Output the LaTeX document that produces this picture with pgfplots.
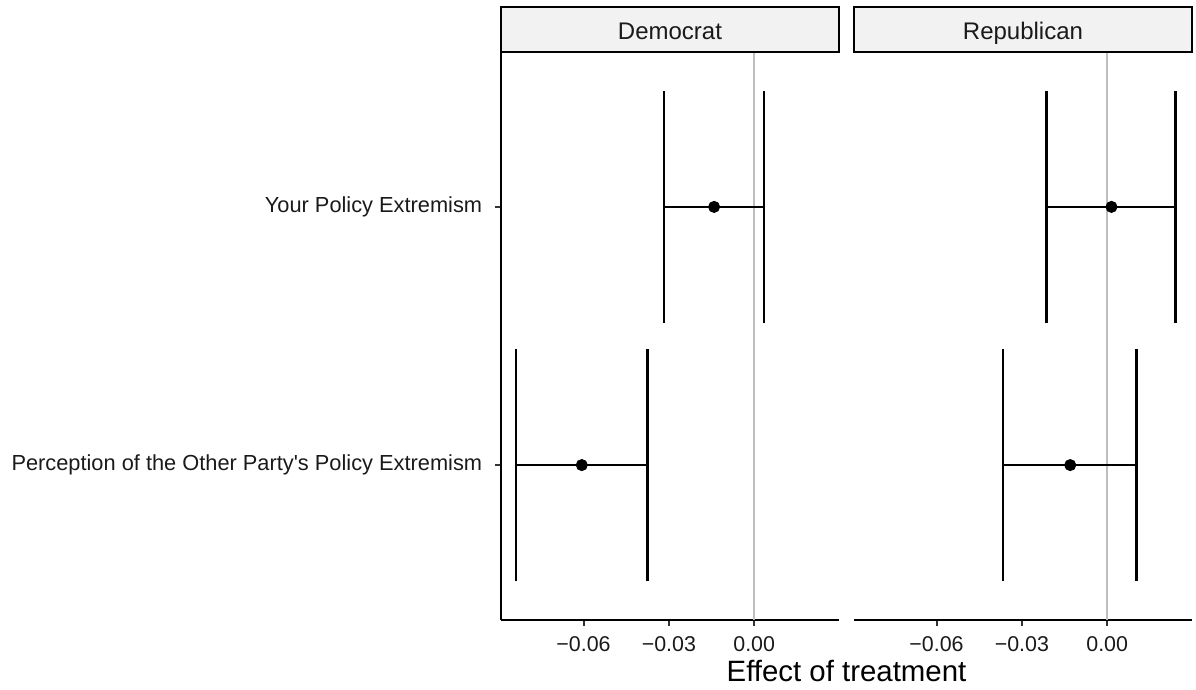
\documentclass[border=0pt]{standalone}
\usepackage{fontspec}
\setmainfont{Liberation Sans}
\usepackage{pgfplots}
\pgfplotsset{compat=1.18}
\definecolor{stripfill}{HTML}{F2F2F2}
\definecolor{zeroline}{HTML}{BEBEBE}
\definecolor{tickcol}{HTML}{333333}
\definecolor{txt}{HTML}{1A1A1A}
\pgfplotsset{
  panel/.style={
    width=169pt, height=284pt, scale only axis,
    xmin=-0.0890, xmax=0.0298, ymin=0.4, ymax=2.6,
    scaled x ticks=false,
    xtick={-0.06,-0.03,0}, xticklabels={−0.06,−0.03,0.00},
    tick align=outside, major tick length=3pt,
    tick style={tickcol, line width=1pt},
    axis line style={black, line width=1.1pt},
    ticklabel style={font=\fontsize{10.7}{12}\selectfont, text=txt},
    xticklabel style={yshift=-1.5pt},
    yticklabel style={xshift=-2.9pt, font=\fontsize{10.9}{12}\selectfont},
    clip=false,
    anchor=south west,
  },
  ci/.style={black, line width=1.3pt, mark=none},
  est/.style={black, only marks, mark=*, mark size=2.8pt},
  zl/.style={zeroline, line width=1.1pt, mark=none},
}
\begin{document}
\begin{tikzpicture}
\useasboundingbox (0,0) rectangle (598pt,345pt);
% Democrat panel
\begin{axis}[panel, at={(250.5pt,35pt)},
  axis x line*=bottom, axis y line*=left,
  ytick={1,2},
  yticklabels={Perception of the Other Party\textquotesingle s Policy Extremism, Your Policy Extremism}]
\addplot[zl] coordinates {(0,0.4) (0,2.6)};
% Your Policy Extremism
\addplot[ci] coordinates {(-0.0317,1.55) (-0.0317,2.45)};
\addplot[ci] coordinates {(0.0034,1.55) (0.0034,2.45)};
\addplot[ci] coordinates {(-0.0317,2) (0.0034,2)};
% Perception of the Other Party's Policy Extremism
\addplot[ci] coordinates {(-0.0837,0.55) (-0.0837,1.45)};
\addplot[ci] coordinates {(-0.0375,0.55) (-0.0375,1.45)};
\addplot[ci] coordinates {(-0.0837,1) (-0.0375,1)};
\addplot[est] coordinates {(-0.0141,2) (-0.0606,1)};
\end{axis}
% Republican panel
\begin{axis}[panel, at={(427pt,35pt)},
  axis x line*=bottom, axis y line=none, ytick=\empty]
\addplot[zl] coordinates {(0,0.4) (0,2.6)};
\addplot[ci] coordinates {(-0.0214,1.55) (-0.0214,2.45)};
\addplot[ci] coordinates {(0.0241,1.55) (0.0241,2.45)};
\addplot[ci] coordinates {(-0.0214,2) (0.0241,2)};
\addplot[ci] coordinates {(-0.0366,0.55) (-0.0366,1.45)};
\addplot[ci] coordinates {(0.0103,0.55) (0.0103,1.45)};
\addplot[ci] coordinates {(-0.0366,1) (0.0103,1)};
\addplot[est] coordinates {(0.0015,2) (-0.0130,1)};
\end{axis}
% facet strips
\draw[line width=1.1pt, fill=stripfill] (250.5pt,319pt) rectangle (419.5pt,341.5pt);
\draw[line width=1.1pt, fill=stripfill] (427pt,319pt) rectangle (596pt,341.5pt);
\node[font=\fontsize{12}{14}\selectfont, text=txt, anchor=base] at (335pt,325.4pt) {Democrat};
\node[font=\fontsize{12}{14}\selectfont, text=txt, anchor=base] at (511.5pt,325.4pt) {Republican};
% axis title
\node[font=\fontsize{14.7}{17}\selectfont, text=black] at (423.25pt,9.5pt) {Effect of treatment};
\end{tikzpicture}
\end{document}
